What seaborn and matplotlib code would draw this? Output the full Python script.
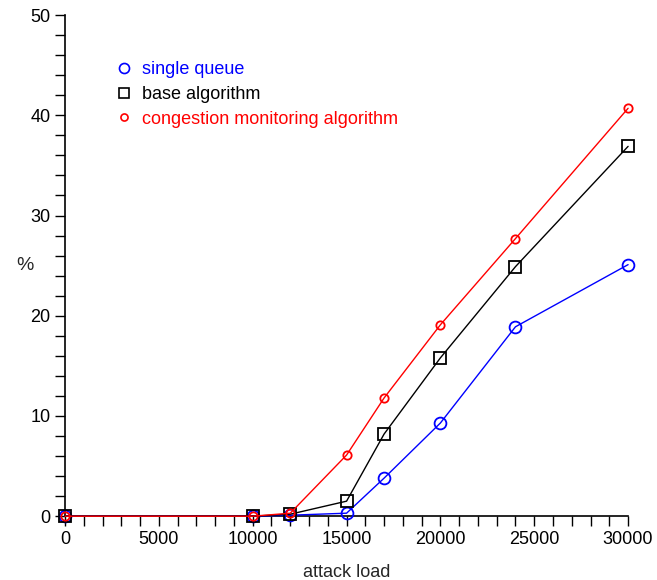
import matplotlib
matplotlib.use("Agg")
import matplotlib.pyplot as plt
from matplotlib.lines import Line2D
from matplotlib.ticker import MultipleLocator
import seaborn as sns
import pandas as pd

attack_load = [0, 10000, 12000, 15000, 17000, 20000, 24000, 30000]
single_queue = [0, 0, 0.1, 0.3, 3.8, 9.3, 18.9, 25.1]
base_algorithm = [0, 0, 0.2, 1.5, 8.2, 15.8, 24.9, 36.9]
congestion_monitoring = [0, 0, 0.3, 6.1, 11.8, 19.1, 27.7, 40.7]

series_names = ["single queue", "base algorithm", "congestion monitoring algorithm"]
series_values = [single_queue, base_algorithm, congestion_monitoring]
colors = ["#0000ff", "#000000", "#ff0000"]
markers = ["o", "s", "o"]
msizes = [8.5, 8, 6]

sns.set_style("ticks")
plt.rcParams["font.family"] = ["Liberation Sans", "DejaVu Sans"]

fig = plt.figure(figsize=(6.57, 5.8), dpi=100)
ax = fig.add_axes([0.099, 0.110, 0.857, 0.864])

rows = []
for name, vals in zip(series_names, series_values):
    for x, y in zip(attack_load, vals):
        rows.append({"attack load": x, "%": y, "series": name})
df = pd.DataFrame(rows)

for name, c, m, ms in zip(series_names, colors, markers, msizes):
    sub = df[df["series"] == name]
    sns.lineplot(data=sub, x="attack load", y="%", ax=ax, color=c, marker=m,
                 markersize=ms, markerfacecolor="none", markeredgecolor=c,
                 markeredgewidth=1.3, linewidth=1.0, clip_on=False, legend=False,
                 zorder=3)

ax.set_xlim(0, 30000)
ax.set_ylim(0, 50)
ax.xaxis.set_major_locator(MultipleLocator(5000))
ax.xaxis.set_minor_locator(MultipleLocator(1000))
ax.yaxis.set_major_locator(MultipleLocator(10))
ax.yaxis.set_minor_locator(MultipleLocator(2))
ax.tick_params(which="both", direction="out", length=7, width=1.0, colors="black",
               labelsize=13)
for s in ["top", "right"]:
    ax.spines[s].set_visible(False)
for s in ["left", "bottom"]:
    ax.spines[s].set_linewidth(1.2)
    ax.spines[s].set_color("black")

ax.set_xlabel("attack load", fontsize=13, labelpad=12)
ax.set_ylabel("%", fontsize=14, rotation=0, va="center", ha="center")
ax.yaxis.set_label_coords(-0.072, 0.5)

handles = [Line2D([], [], linestyle="none", marker=m, markersize=ms * 0.85,
                  markerfacecolor="none", markeredgecolor=c, markeredgewidth=1.2)
           for c, m, ms in zip(colors, markers, msizes)]
leg = ax.legend(handles, series_names, loc="upper left", bbox_to_anchor=(0.06, 0.94),
                frameon=False, fontsize=13, handlelength=1.0, handletextpad=0.5,
                labelspacing=0.42, labelcolor=colors)

fig.savefig("out.png", dpi=100)
